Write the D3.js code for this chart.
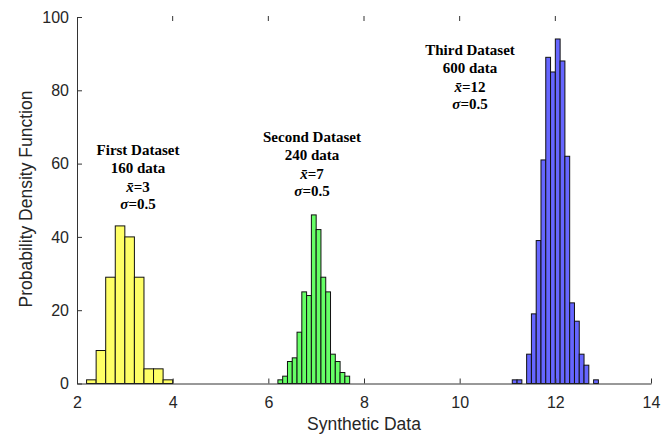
<!DOCTYPE html>
<html>
<head>
<meta charset="utf-8">
<script src="https://cdn.jsdelivr.net/npm/d3@7"></script>
<style>
  body { margin: 0; background: #fff; }
  .tick text { font-family: "Liberation Sans", Arial, sans-serif; }
</style>
</head>
<body>
<div id="chart"></div>
<script>
// histogram data (left bin edges + counts)
var firstBins = [2.2, 2.4, 2.6, 2.8, 3.0, 3.2, 3.4, 3.6, 3.8];
var firstCounts = [1, 9, 29, 43, 40, 29, 4, 4, 1];
var secondBins = [6.2, 6.3, 6.4, 6.5, 6.6, 6.7, 6.8, 6.9, 7.0, 7.1, 7.2, 7.3, 7.4, 7.5, 7.6];
var secondCounts = [1, 2, 6, 7, 14, 25, 24, 46, 42, 29, 25, 8, 6, 3, 2];
var thirdBins = [11.1, 11.2, 11.4, 11.5, 11.6, 11.7, 11.8, 11.9, 12.0, 12.1, 12.2, 12.3, 12.4, 12.5, 12.6, 12.8];
var thirdCounts = [1, 1, 8, 19, 39, 61, 89, 85, 94, 88, 62, 22, 17, 8, 5, 1];
var binWidths = [0.2, 0.1, 0.1];
var xTicks = [2, 4, 6, 8, 10, 12, 14];
var yTicks = [0, 20, 40, 60, 80, 100];

var W = 670, H = 435;
var margin = {top: 17, right: 19, bottom: 52, left: 77};

var svg = d3.select("#chart").append("svg")
    .attr("width", W)
    .attr("height", H);

var x = d3.scaleLinear().domain([2, 14]).range([margin.left, W - margin.right]);
var y = d3.scaleLinear().domain([0, 100]).range([H - margin.bottom + 0.5, margin.top]);

var sets = [
  {bins: firstBins, counts: firstCounts, w: binWidths[0], color: "#ffff66"},
  {bins: secondBins, counts: secondCounts, w: binWidths[1], color: "#66ff66"},
  {bins: thirdBins, counts: thirdCounts, w: binWidths[2], color: "#6666ff"}
];

sets.forEach(function(s) {
  svg.append("g").selectAll("rect")
    .data(s.bins)
    .enter().append("rect")
      .attr("x", function(d) { return x(d); })
      .attr("y", function(d, i) { return y(s.counts[i]); })
      .attr("width", function(d) { return x(d + s.w) - x(d); })
      .attr("height", function(d, i) { return y(0) - y(s.counts[i]); })
      .attr("fill", s.color)
      .attr("stroke", "#111")
      .attr("stroke-width", 1);
});

// axes, ticks inward
var axisColor = "#333";
var xAxis = svg.append("g")
    .attr("transform", "translate(0," + y(0) + ")")
    .call(d3.axisBottom(x).tickValues(xTicks).tickSizeInner(-5).tickSizeOuter(0).tickPadding(13));
var yAxis = svg.append("g")
    .attr("transform", "translate(" + margin.left + ",0)")
    .call(d3.axisLeft(y).tickValues(yTicks).tickSizeInner(-5).tickSizeOuter(0).tickPadding(8));

[xAxis, yAxis].forEach(function(a) {
  a.select(".domain").attr("stroke", axisColor);
  a.selectAll(".tick line").attr("stroke", axisColor);
  a.selectAll(".tick text").attr("fill", "#262626").style("font-size", "16px");
});

// top ticks (no top line)
svg.append("g").selectAll("line")
  .data(xTicks.slice(1, -1))
  .enter().append("line")
    .attr("x1", function(d) { return x(d); })
    .attr("x2", function(d) { return x(d); })
    .attr("y1", margin.top - 1)
    .attr("y2", margin.top + 4)
    .attr("stroke", axisColor);

// axis labels
svg.append("text")
    .attr("x", x(8))
    .attr("y", 430)
    .attr("text-anchor", "middle")
    .attr("fill", "#262626")
    .style("font-family", "Liberation Sans, Arial, sans-serif")
    .style("font-size", "17.5px")
    .text("Synthetic Data");

svg.append("text")
    .attr("transform", "translate(32," + 199 + ") rotate(-90)")
    .attr("text-anchor", "middle")
    .attr("fill", "#262626")
    .style("font-family", "Liberation Sans, Arial, sans-serif")
    .style("font-size", "17.5px")
    .text("Probability Density Function");

// annotations
var notes = [
  {cx: 138, top: 155, name: "First Dataset", n: "160 data", mean: "3"},
  {cx: 312, top: 142, name: "Second Dataset", n: "240 data", mean: "7"},
  {cx: 470, top: 55, name: "Third Dataset", n: "600 data", mean: "12"}
];

notes.forEach(function(d) {
  var t = svg.append("text")
      .attr("text-anchor", "middle")
      .attr("fill", "#000")
      .style("font-family", "Liberation Serif, Times New Roman, serif")
      .style("font-weight", "bold")
      .style("font-size", "15px");
  t.append("tspan").attr("x", d.cx).attr("y", d.top).text(d.name);
  t.append("tspan").attr("x", d.cx).attr("y", d.top + 18).text(d.n);
  var l3 = t.append("tspan").attr("x", d.cx).attr("y", d.top + 36.5);
  l3.append("tspan").style("font-style", "italic").text("x\u0304");
  l3.append("tspan").text("=" + d.mean);
  var l4 = t.append("tspan").attr("x", d.cx).attr("y", d.top + 54);
  l4.append("tspan").style("font-style", "italic").text("\u03c3");
  l4.append("tspan").text("=0.5");
});
</script>
</body>
</html>
